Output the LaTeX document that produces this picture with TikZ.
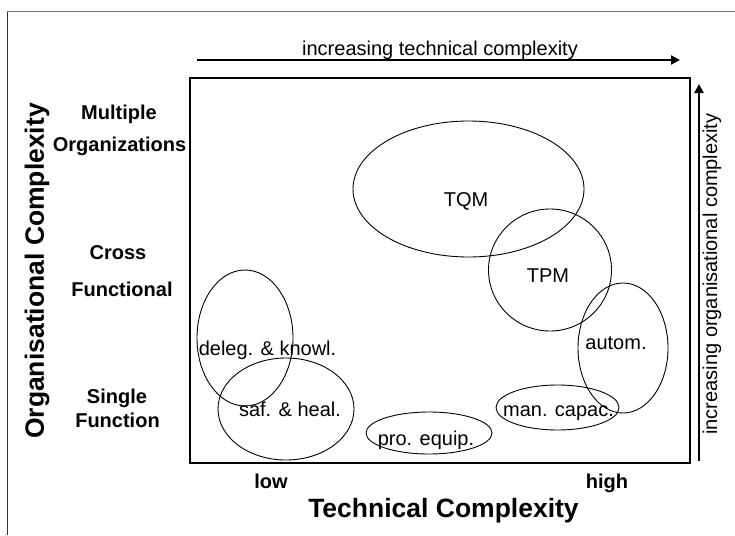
\documentclass[tikz,border=0pt]{standalone}
\usepackage{fontspec}
\setmainfont{Liberation Sans}
\usetikzlibrary{shapes.geometric,arrows.meta}

\tikzset{
  blob/.style={draw, ellipse, line width=0.9pt, inner sep=0pt},
  blobtext/.style={anchor=base, inner sep=0pt, font=\fontsize{20}{24}\selectfont},
  levellabel/.style={anchor=base, inner sep=0pt, font=\fontsize{20}{24}\selectfont\bfseries},
  axistitle/.style={inner sep=0pt, font=\fontsize{26.5}{30}\selectfont\bfseries},
  trend/.style={line width=2.6pt, -{Triangle[length=9pt,width=9pt]}},
  trendtext/.style={inner sep=0pt, font=\fontsize{20}{24}\selectfont}
}

\begin{document}
\begin{tikzpicture}[x=1pt, y=-1pt]
\useasboundingbox (0,0) rectangle (735,535);

% outer frame edges
\draw[black!55, line width=1pt] (7,12) -- (735,12);
\draw[black!80, line width=1pt] (7,12) -- (7,535);

% plotting area
\node[draw, line width=2pt, minimum width=500pt, minimum height=385pt, inner sep=0pt] (area) at (440,270.5) {};

% direction arrows
\coordinate (hstart) at (197,60);
\coordinate (hend) at (680,60);
\draw[trend] (hstart) -- (hend);
\node[trendtext, anchor=base] (htext) at (440,56) {increasing technical complexity};

\coordinate (vstart) at (699,461);
\coordinate (vend) at (699,84);
\draw[trend] (vstart) -- (vend);
\node[trendtext, rotate=90] (vtext) at (712,274) {increasing organisational complexity};

% axis titles
\node[axistitle, rotate=90] (ytitle) at (37,271) {Organisational Complexity};
\node[axistitle, anchor=base] (xtitle) at (443.5,517) {Technical Complexity};

% level labels
\node[levellabel] (l1) at (119,119) {Multiple};
\node[levellabel] (l2) at (119.5,151.5) {Organizations};
\node[levellabel] (l3) at (118,259) {Cross};
\node[levellabel] (l4) at (122,296) {Functional};
\node[levellabel] (l5) at (117,403) {Single};
\node[levellabel] (l6) at (117.5,427) {Function};
\node[levellabel] (low) at (271,488) {low};
\node[levellabel] (high) at (607,488) {high};

% practice areas
\node[blob, minimum width=231pt, minimum height=136pt] (tqm) at (468.5,189) {};
\node[blob, minimum width=123pt, minimum height=122pt] (tpm) at (550,270) {};
\node[blob, minimum width=90pt, minimum height=130pt] (autom) at (623,348) {};
\node[blob, minimum width=96pt, minimum height=136pt] (deleg) at (245,338) {};
\node[blob, minimum width=136pt, minimum height=102pt] (saf) at (286,409) {};
\node[blob, minimum width=126pt, minimum height=42pt] (pro) at (429,433) {};
\node[blob, minimum width=123pt, minimum height=45pt] (man) at (557.5,407.5) {};

\node[blobtext] (tqmt) at (466,206) {TQM};
\node[blobtext] (tpmt) at (548,282) {TPM};
\node[blobtext] (automt) at (616,349) {autom.};
\node[blobtext] (delegt) at (267.5,355) {deleg. \& knowl.};
\node[blobtext] (saft) at (290,416.5) {saf. \& heal.};
\node[blobtext] (prot) at (426,445) {pro. equip.};
\node[blobtext] (mant) at (558.5,416.5) {man. capac.};
\end{tikzpicture}
\end{document}
